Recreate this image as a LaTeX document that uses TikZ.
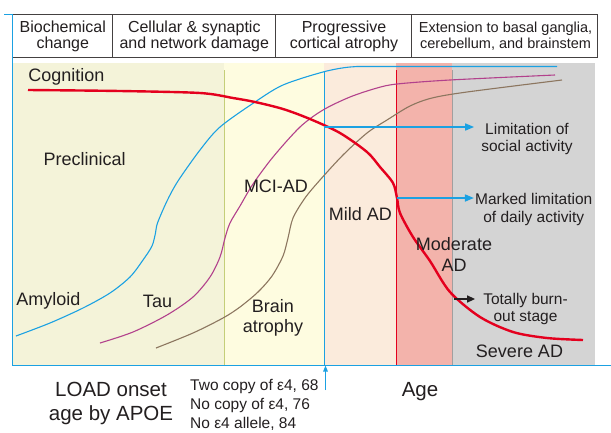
\documentclass[tikz,border=0pt]{standalone}
\usepackage{fontspec}
\setmainfont{Liberation Sans}
\usetikzlibrary{arrows.meta}
\definecolor{bandA}{RGB}{244,243,217}
\definecolor{bandB}{RGB}{254,252,224}
\definecolor{bandC}{RGB}{251,235,220}
\definecolor{bandD}{RGB}{243,179,171}
\definecolor{bandE}{RGB}{212,212,212}
\definecolor{amyc}{RGB}{27,161,226}
\definecolor{tauc}{RGB}{178,65,140}
\definecolor{brnc}{RGB}{140,118,95}
\definecolor{cogc}{RGB}{228,0,30}
\definecolor{olivec}{RGB}{196,206,120}
\definecolor{txt}{RGB}{35,31,32}
\definecolor{sepgray}{RGB}{160,160,160}
\tikzset{
  lbl/.style={font=\fontsize{18}{21}\selectfont, text=txt, inner sep=0pt, align=center},
  sml/.style={font=\fontsize{15.5}{17.5}\selectfont, text=txt, inner sep=0pt, align=center},
  hdr/.style={font=\fontsize{16}{16}\selectfont, text=txt, inner sep=0pt, align=center},
  hdrs/.style={font=\fontsize{14.5}{16}\selectfont, text=txt, inner sep=0pt, align=center},
  big/.style={font=\fontsize{20.5}{23.3}\selectfont, text=txt, inner sep=0pt, align=center},
  apoetxt/.style={font=\fontsize{15.5}{19}\selectfont, text=txt, inner sep=0pt, align=left},
  curve/.style={line width=1.1pt, smooth, tension=0.5},
  barrow/.style={amyc, line width=1.6pt, -{Triangle[length=9pt,width=7pt]}},
  karrow/.style={txt, line width=1.6pt, -{Triangle[length=8pt,width=7pt]}},
  hline/.style={draw=txt!85, line width=0.9pt},
}
\begin{document}
\begin{tikzpicture}[x=1pt,y=-1pt]
\useasboundingbox (0,0) rectangle (611,432);
\fill[white] (0,0) rectangle (611,432);
% bands
\fill[bandA] (12,63) rectangle (224,365);
\fill[bandB] (224,63) rectangle (324,365);
\fill[bandC] (324,63) rectangle (396,365);
\fill[bandD] (396,63) rectangle (452,365);
\fill[bandE] (452,63) rectangle (595,365);
% stage separators
\draw[olivec, line width=0.9pt] (224,70) -- (224,365);
\draw[amyc, line width=1pt] (324,72) -- (324,365);
\draw[cogc, line width=1pt] (396,70) -- (396,365);
\draw[sepgray, line width=1pt] (452,70) -- (452,365);
% header
\draw[hline] (12,14) -- (597.5,14) -- (597.5,57) -- (12,57);
\draw[hline] (112.5,14) -- (112.5,57);
\draw[hline] (275,14) -- (275,57);
\draw[hline] (411.5,14) -- (411.5,57);
\node[hdr, anchor=base] (h1) at (62.8,48) {Biochemical\\change};
\node[hdr, anchor=base] (h2) at (194.3,48) {Cellular \& synaptic\\and network damage};
\node[hdr, anchor=base] (h3) at (344,48) {Progressive\\cortical atrophy};
\node[hdrs, anchor=base] (h4) at (505.6,48) {Extension to basal ganglia,\\cerebellum, and brainstem};
% frame
\draw[amyc, line width=1pt] (4,14) -- (12,14) -- (12,365) -- (611,365);
% curves
\draw[amyc, curve] plot coordinates {(16,336) (50,323) (83,308) (110,293) (130,277) (143,260) (152,246) (155.5,233) (157.5,223) (167,201) (178,181) (200,150) (220,127) (255,102) (283,85) (323,72) (350,67) (380,66.5) (557,66.5)};
\draw[tauc, curve] plot coordinates {(100,343) (133,332) (167,315) (193,297) (210,277) (220,257) (225,238) (230,223) (240,206) (253,184) (273,157) (300,127) (323,110) (350,97) (377,88) (397,84) (450,80) (555,75)};
\draw[brnc, curve] plot coordinates {(156,348) (193,333) (223,318) (240,307) (258,292) (272,276) (283,256) (288,238) (293,218) (305,198) (320,180) (343,155) (367,133) (387,120) (410,106) (432,98) (467,92) (562,80)};
\draw[cogc, line width=2.4pt, smooth, tension=0.5] plot coordinates {(28,90) (120,91) (200,93) (233,98) (255,102) (283,109) (310,119) (340,133) (367,152) (380,167) (393,183) (397,198) (400,213) (413,237) (430,261) (450,292) (480,317) (513,332) (547,338) (583,340)};
% labels
\node[lbl, anchor=base] (cog) at (66.5,81) {Cognition};
\node[lbl, anchor=base] (precl) at (84.7,165) {Preclinical};
\node[lbl, anchor=base] (mci) at (276,192) {MCI-AD};
\node[lbl, anchor=base] (amy) at (48.5,305) {Amyloid};
\node[lbl, anchor=base] (tau) at (157.5,307) {Tau};
\node[lbl, anchor=base, font=\fontsize{18}{19.5}\selectfont] (brain) at (273,332) {Brain\\atrophy};
\node[lbl, anchor=base] (mild) at (360.5,220) {Mild AD};
\node[lbl, anchor=base] (mod) at (454,271) {Moderate\\AD};
\node[lbl, anchor=base] (sev) at (519.5,357) {Severe AD};
% outcome labels and arrows
\node[sml, anchor=base, font=\fontsize{15.5}{17}\selectfont] (lim) at (527,151) {Limitation of\\social activity};
\node[sml, anchor=base, font=\fontsize{15.5}{18}\selectfont] (mark) at (533.7,222) {Marked limitation\\of daily activity};
\node[sml, anchor=base, font=\fontsize{15.5}{17}\selectfont] (burn) at (525.5,321) {Totally burn-\\out stage};
\coordinate (s1) at (324,127);
\coordinate (s2) at (397,198);
\coordinate (s3) at (454,299);
\draw[barrow, shorten >=7pt] (s1) -- (s1 -| lim.west);
\draw[barrow, shorten >=1pt] (s2) -- (s2 -| mark.west);
\draw[karrow, shorten >=8pt] (s3) -- (s3 -| burn.west);
% bottom
\node[big, anchor=base] (load) at (111,420) {LOAD onset\\age by APOE};
\node[apoetxt, anchor=base west] (apoe) at (190,428.5) {Two copy of ε4, 68\\No copy of ε4, 76\\No ε4 allele, 84};
\node[big, anchor=base] (age) at (420,396) {Age};
\coordinate (onsetlow) at (325.5,390);
\coordinate (onsetaxis) at (325.5,365.5);
\draw[amyc, line width=1.2pt, -{Triangle[length=6pt,width=4.5pt]}] (onsetlow) -- (onsetaxis);
\end{tikzpicture}
\end{document}
